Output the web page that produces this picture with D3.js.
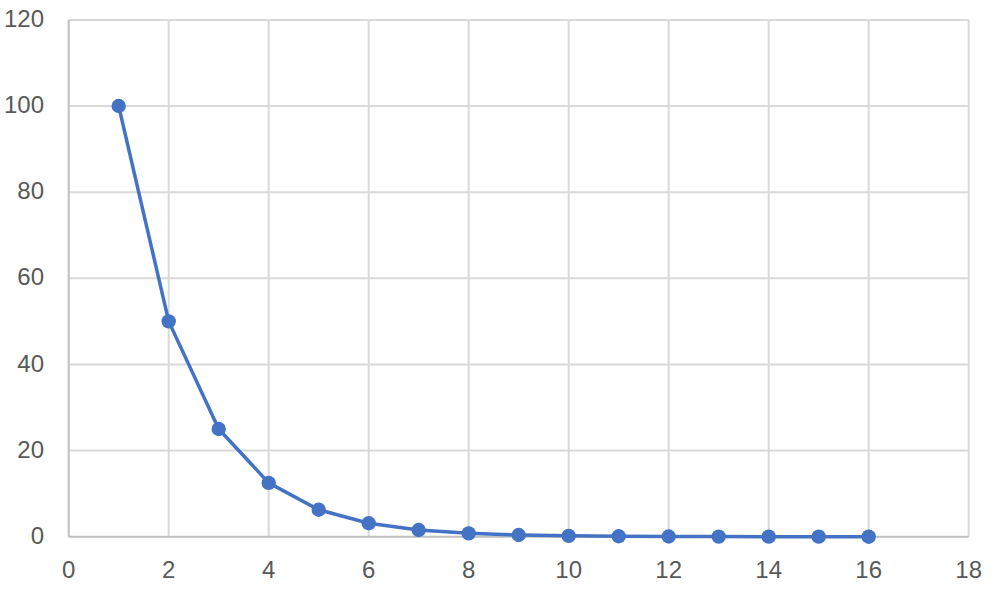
<!DOCTYPE html>
<html><head><meta charset="utf-8">
<script src="https://cdn.jsdelivr.net/npm/d3@7"></script>
<style>body{margin:0;background:#fff}svg{display:block}</style>
</head><body>
<svg id="chart" width="1000" height="591"></svg>
<script>
const xValues = [1,2,3,4,5,6,7,8,9,10,11,12,13,14,15,16];
const yValues = [100,50,25,12.5,6.25,3.13,1.56,0.78,0.39,0.2,0.1,0.05,0.02,0.01,0.006,0.003];
const xTicks = [0,2,4,6,8,10,12,14,16,18];
const yTicks = [0,20,40,60,80,100,120];

const svg = d3.select("#chart");
const x = d3.scaleLinear().domain([0,18]).range([68.7,968.7]);
const y = d3.scaleLinear().domain([0,120]).range([536.7,19.9]);
const font = "Liberation Sans, Arial, sans-serif";

// vertical gridlines
svg.append("g").selectAll("line").data(xTicks.filter(d=>d>0)).join("line")
  .attr("x1",d=>x(d)).attr("x2",d=>x(d)).attr("y1",y(120)).attr("y2",y(0))
  .attr("stroke","#d9d9d9").attr("stroke-width",2);
// horizontal gridlines
svg.append("g").selectAll("line").data(yTicks.filter(d=>d>0)).join("line")
  .attr("x1",x(0)).attr("x2",x(18)).attr("y1",d=>y(d)).attr("y2",d=>y(d))
  .attr("stroke","#d9d9d9").attr("stroke-width",2);
// axes lines
svg.append("line").attr("x1",x(0)).attr("x2",x(0)).attr("y1",y(120)).attr("y2",y(0))
  .attr("stroke","#bfbfbf").attr("stroke-width",2);
svg.append("line").attr("x1",x(0)).attr("x2",x(18)).attr("y1",y(0)).attr("y2",y(0))
  .attr("stroke","#bfbfbf").attr("stroke-width",2);

// tick labels
svg.append("g").selectAll("text").data(yTicks).join("text")
  .attr("x",44).attr("y",d=>y(d)-1.5).attr("dy","0.36em").attr("text-anchor","end")
  .attr("font-family",font).attr("font-size",24).attr("fill","#595959").text(d=>d);
svg.append("g").selectAll("text").data(xTicks).join("text")
  .attr("x",d=>x(d)).attr("y",569.3).attr("dy","0.36em").attr("text-anchor","middle")
  .attr("font-family",font).attr("font-size",24).attr("fill","#595959").text(d=>d);

const pts = xValues.map((v,i)=>[v,yValues[i]]);
svg.append("path").datum(pts)
  .attr("d",d3.line().x(d=>x(d[0])).y(d=>y(d[1])))
  .attr("fill","none").attr("stroke","#4472c4").attr("stroke-width",3.5).attr("stroke-linejoin","round");
svg.append("g").selectAll("circle").data(pts).join("circle")
  .attr("cx",d=>x(d[0])).attr("cy",d=>y(d[1])).attr("r",7.2).attr("fill","#4472c4");
</script>
</body></html>
